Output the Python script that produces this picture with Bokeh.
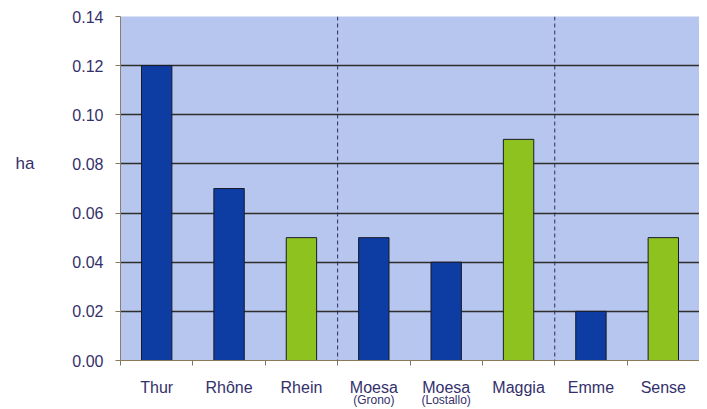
from bokeh.plotting import figure
from bokeh.models import (Range1d, FixedTicker, CustomJSTickFormatter, NumeralTickFormatter,
                          Span, LinearAxis, ColumnDataSource)
from bokeh.embed import file_html
from bokeh.resources import INLINE

# ---- data ----
categories = ["Thur", "Rhône", "Rhein", "Moesa", "Moesa", "Maggia", "Emme", "Sense"]
sublabels = ["", "", "", "(Grono)", "(Lostallo)", "", "", ""]
values = [0.12, 0.07, 0.05, 0.05, 0.04, 0.09, 0.02, 0.05]
kinds = ["blue", "blue", "green", "blue", "blue", "green", "blue", "green"]
group_sizes = [3, 3, 2]
y_ticks = [0.00, 0.02, 0.04, 0.06, 0.08, 0.10, 0.12, 0.14]
y_label = "ha"
y_label_at = 0.08

BLUE = "#0d3ca3"
GREEN = "#8ec21f"
BG = "#b7c6ee"
TEXT = "#34306b"
GRID = "#2e2e2a"
FONT = "Liberation Sans"

n = len(categories)
centers = [i + 0.5 for i in range(n)]
bounds = [i for i in range(n + 1)]
colors = [BLUE if k == "blue" else GREEN for k in kinds]

p = figure(width=699, height=409, output_backend="svg", toolbar_location=None,
           x_range=Range1d(0, n), y_range=Range1d(y_ticks[0], y_ticks[-1]),
           min_border_left=120, min_border_right=0, min_border_top=16, min_border_bottom=20)

p.background_fill_color = BG
p.border_fill_color = "white"
p.outline_line_color = None

src = ColumnDataSource(dict(x=centers, top=values, color=colors))
p.vbar(x="x", top="top", width=0.42, bottom=0, source=src, fill_color="color",
       line_color="#1a1a2a", line_width=1)

# grid
p.xgrid.grid_line_color = None
p.ygrid.ticker = FixedTicker(ticks=y_ticks)
p.ygrid.grid_line_color = GRID
p.ygrid.grid_line_width = 1.3

# group separators
cum = 0
for g in group_sizes[:-1]:
    cum += g
    p.add_layout(Span(location=cum, dimension="height", line_color="#2a2a60",
                      line_dash="4 3", line_width=1))

# y axis
ya = p.yaxis[0]
ya.ticker = FixedTicker(ticks=y_ticks)
ya.formatter = NumeralTickFormatter(format="0.00")
ya.axis_line_color = "#888070"
ya.major_tick_line_color = "#8a7a55"
ya.major_tick_out = 5
ya.major_tick_in = 0
ya.minor_tick_line_color = None
ya.major_label_standoff = 12
ya.major_label_text_font = FONT
ya.major_label_text_font_size = "16px"
ya.major_label_text_color = TEXT

# unit label as an outer left axis
ua = LinearAxis(ticker=FixedTicker(ticks=[y_label_at]),
                formatter=CustomJSTickFormatter(args=dict(t=y_label), code="return t;"))
ua.axis_line_color = None
ua.major_tick_line_color = None
ua.minor_tick_line_color = None
ua.major_tick_out = 0
ua.major_tick_in = 0
ua.major_label_standoff = 35
ua.major_label_text_font = FONT
ua.major_label_text_font_size = "17px"
ua.major_label_text_color = TEXT
p.add_layout(ua, "left")

# x axis
xa = p.xaxis[0]
xa.ticker = FixedTicker(ticks=centers, minor_ticks=bounds)
xa.formatter = CustomJSTickFormatter(args=dict(names=categories),
                                     code="return names[Math.floor(tick)] || '';")
xa.axis_line_color = "#8a7a55"
xa.major_tick_line_color = None
xa.major_tick_out = 0
xa.major_tick_in = 0
xa.minor_tick_line_color = "#807560"
xa.minor_tick_out = 5
xa.minor_tick_in = 0
xa.major_label_standoff = 13
xa.major_label_text_font = FONT
xa.major_label_text_font_size = "16px"
xa.major_label_text_color = TEXT

# sub labels as a second axis below
sa = LinearAxis(ticker=FixedTicker(ticks=centers),
                formatter=CustomJSTickFormatter(args=dict(names=sublabels),
                                                code="return names[Math.floor(tick)] || '';"))
sa.axis_line_color = None
sa.major_tick_line_color = None
sa.minor_tick_line_color = None
sa.major_tick_out = 0
sa.major_tick_in = 0
sa.major_label_standoff = -6
sa.major_label_text_font = FONT
sa.major_label_text_font_size = "12px"
sa.major_label_text_color = TEXT
p.add_layout(sa, "below")

open("out.html", "w").write(file_html(p, INLINE))
